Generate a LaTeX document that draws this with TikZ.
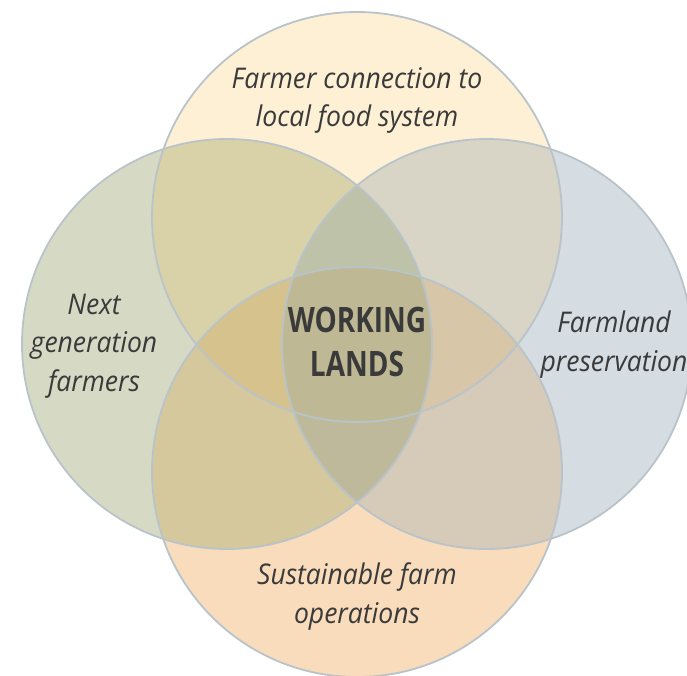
\documentclass[tikz,border=0pt]{standalone}
\usepackage{fontspec}
\newfontfamily\labelfont{Open Sans}[FakeStretch=0.93]
\newfontfamily\hubfont{Open Sans}[FakeStretch=0.8]
\definecolor{topfill}{HTML}{FEF0D4}
\definecolor{leftfill}{HTML}{D6DAC4}
\definecolor{rightfill}{HTML}{D5DCE2}
\definecolor{botfill}{HTML}{F8DCBC}
\definecolor{tlfill}{HTML}{D9D1A8}
\definecolor{trfill}{HTML}{D8D5C6}
\definecolor{blfill}{HTML}{D5C89C}
\definecolor{brfill}{HTML}{D6CAB8}
\definecolor{tlrfill}{HTML}{BEC2A8}
\definecolor{blrfill}{HTML}{BFB99C}
\definecolor{tblfill}{HTML}{D5C28C}
\definecolor{tbrfill}{HTML}{D8C6A8}
\definecolor{hubfill}{HTML}{BEB994}
\definecolor{ringline}{HTML}{B9C3CA}
\definecolor{inkgray}{HTML}{3A3A3A}
\usetikzlibrary{positioning}
\tikzset{
  ring/.style={draw=ringline, line width=1.8pt},
  venntext/.style={text=inkgray, align=center, anchor=base,
    font=\labelfont\itshape\fontsize{28.5}{38.5}\selectfont},
  hubtext/.style={text=inkgray, align=center, anchor=base,
    font=\hubfont\bfseries\fontsize{35}{44}\selectfont}
}
\begin{document}
\begin{tikzpicture}[x=1pt,y=-1pt]
\useasboundingbox (0,0) rectangle (687,676);
\fill[white] (0,0) rectangle (687,676);
\coordinate (T) at (357,217);
\coordinate (L) at (227,344);
\coordinate (R) at (487,344);
\coordinate (B) at (357,472);
% one circle
\foreach \c/\col in {T/topfill,L/leftfill,R/rightfill,B/botfill}
  \fill[\col] (\c) circle[radius=205pt];
% two circles
\foreach \a/\b/\col in {T/L/tlfill,T/R/trfill,B/L/blfill,B/R/brfill}
  {\begin{scope}
    \clip (\a) circle[radius=205pt];
    \fill[\col] (\b) circle[radius=205pt];
  \end{scope}}
% three circles
\foreach \a/\b/\c/\col in {T/L/R/tlrfill,B/L/R/blrfill,T/B/L/tblfill,T/B/R/tbrfill}
  {\begin{scope}
    \clip (\a) circle[radius=205pt];
    \clip (\b) circle[radius=205pt];
    \fill[\col] (\c) circle[radius=205pt];
  \end{scope}}
% all four
\begin{scope}
  \clip (T) circle[radius=205pt];
  \clip (L) circle[radius=205pt];
  \clip (R) circle[radius=205pt];
  \fill[hubfill] (B) circle[radius=205pt];
\end{scope}
\foreach \c in {T,L,R,B}
  \draw[ring] (\c) circle[radius=205pt];
\node[venntext] (farmer) at (357,127) {Farmer connection to\\local food system};
\node[venntext] (nextgen) at (94,391) {Next\\generation\\farmers};
\node[venntext] (farmland) at (614,371) {Farmland\\preservation};
\node[venntext] (sustain) at (357,623) {Sustainable farm\\operations};
\node[hubtext] (working) at (357,376) {WORKING\\LANDS};
\end{tikzpicture}
\end{document}
